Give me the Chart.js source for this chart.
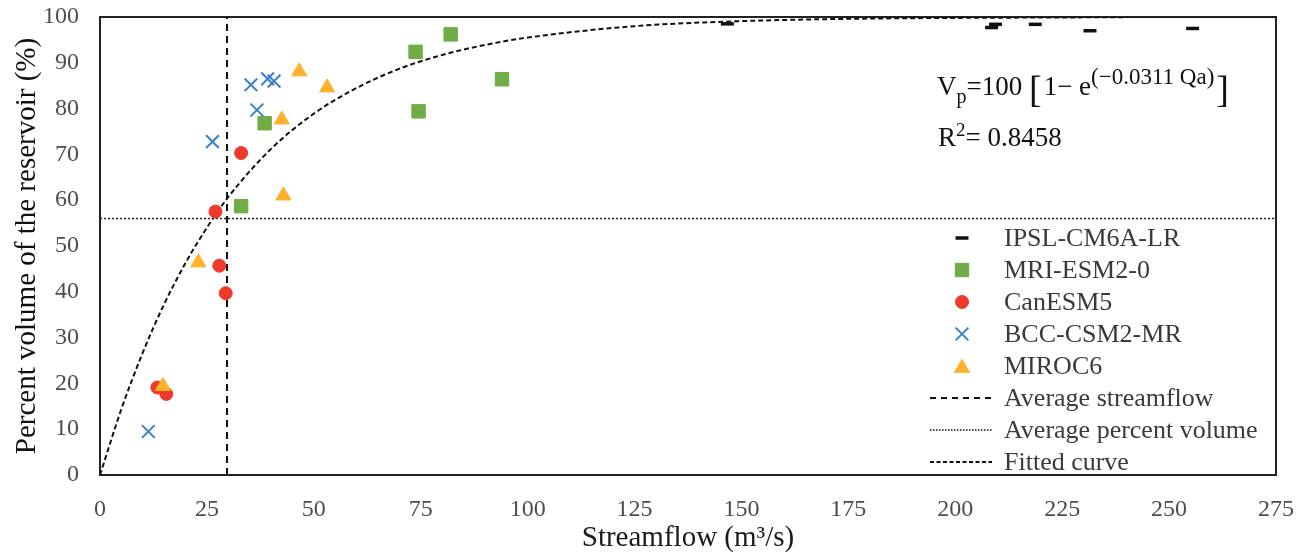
<!DOCTYPE html>
<html>
<head>
<meta charset="utf-8">
<script src="https://cdn.jsdelivr.net/npm/chart.js@4.4.1/dist/chart.umd.min.js"></script>
<style>
  html, body { margin: 0; padding: 0; background: #fff; }
  #chart { display: block; }
</style>
</head>
<body>
<canvas id="chart" width="1306" height="553"></canvas>
<script>
// values
const seriesNames = ['IPSL-CM6A-LR', 'MRI-ESM2-0', 'CanESM5', 'BCC-CSM2-MR', 'MIROC6'];

const ipslX = [146.7, 208.5, 209.4, 218.7, 231.5, 255.5];
const ipslY = [98.5, 97.7, 98.4, 98.4, 97.0, 97.5];

const mriX = [73.8, 82, 94, 74.5, 38.5, 33];
const mriY = [92.4, 96.2, 86.4, 79.4, 76.8, 58.7];

const canX = [33, 27, 27.9, 29.4, 13.4, 15.5];
const canY = [70.3, 57.5, 45.7, 39.7, 19.1, 17.7];

const bccX = [35.3, 39.2, 40.7, 36.7, 26.3, 11.3];
const bccY = [85.2, 86.5, 86.0, 79.7, 72.8, 9.5];

const mirocX = [46.6, 53.1, 42.5, 42.9, 23, 14.7];
const mirocY = [88.1, 84.6, 77.6, 61.0, 46.4, 19.4];

// fitted curve
const curveX = [0, 5, 10, 15, 20, 25, 30, 40, 50, 60, 70, 80, 90, 100, 125, 150, 175, 200, 225, 250, 275];
const curveY = [0, 14.4, 26.7, 37.3, 46.3, 54, 60.7, 71.2, 78.9, 84.5, 88.7, 91.7, 93.9, 95.5, 98, 99.1, 99.6, 99.8, 99.9, 100, 100];

const avgFlow = 29.7;
const avgVolume = 56;

const xTicks = [0, 25, 50, 75, 100, 125, 150, 175, 200, 225, 250, 275];
const yTicks = [0, 10, 20, 30, 40, 50, 60, 70, 80, 90, 100];

const serif = "'Liberation Serif', 'Times New Roman', serif";

function toPoints(xs, ys) {
    return xs.map((x, i) => ({ x: x, y: ys[i] }));
}

const colors = {
    ipsl: '#111111',
    mri: '#70AD47',
    can: '#EE3A2C',
    bcc: '#3A80C9',
    miroc: '#FFB12B'
};

// frame around plot area + equation text + legend
const decorPlugin = {
    id: 'decor',
    beforeDatasetsDraw(chart) {
        const { ctx, chartArea: a } = chart;
        ctx.save();
        ctx.strokeStyle = '#222';
        ctx.lineWidth = 2;
        ctx.strokeRect(a.left, a.top, a.right - a.left, a.bottom - a.top);
        ctx.restore();
    },
    afterDraw(chart) {
        const ctx = chart.ctx;
        ctx.save();
        ctx.fillStyle = '#111';
        ctx.textBaseline = 'alphabetic';
        ctx.textAlign = 'left';

        // equation
        let x = 937;
        const base = 95;
        ctx.font = '27px ' + serif;
        ctx.fillText('V', x, base);
        x += ctx.measureText('V').width;
        ctx.font = '20px ' + serif;
        ctx.fillText('p', x, base + 8);
        x += ctx.measureText('p').width;
        ctx.font = '27px ' + serif;
        ctx.fillText('=100 ', x, base);
        x += ctx.measureText('=100 ').width;
        ctx.font = '38px ' + serif;
        ctx.fillText('[', x, base + 7);
        x += ctx.measureText('[').width + 2;
        ctx.font = '27px ' + serif;
        ctx.fillText('1\u2212 e', x, base);
        x += ctx.measureText('1\u2212 e').width;
        ctx.font = '23px ' + serif;
        ctx.fillText('(\u22120.0311 Qa)', x, base - 11);
        x += ctx.measureText('(\u22120.0311 Qa)').width + 2;
        ctx.font = '38px ' + serif;
        ctx.fillText(']', x, base + 7);

        // R squared
        x = 938;
        const base2 = 146;
        ctx.font = '27px ' + serif;
        ctx.fillText('R', x, base2);
        x += ctx.measureText('R').width;
        ctx.font = '19px ' + serif;
        ctx.fillText('2', x, base2 - 10);
        x += ctx.measureText('2').width;
        ctx.font = '27px ' + serif;
        ctx.fillText('= 0.8458', x, base2);

        // legend
        const rowY = 238, step = 32, markX = 962, textX = 1004;
        const marks = [
            { style: 'line', color: colors.ipsl, radius: 6.5, bw: 3.5 },
            { style: 'rect', color: colors.mri, radius: 9.5, bw: 1 },
            { style: 'circle', color: colors.can, radius: 6.5, bw: 1 },
            { style: 'crossRot', color: colors.bcc, radius: 9, bw: 2 },
            { style: 'triangle', color: colors.miroc, radius: 8.7, bw: 1 }
        ];
        marks.forEach((m, i) => {
            ctx.fillStyle = m.color;
            ctx.strokeStyle = m.color;
            ctx.lineWidth = m.bw;
            ctx.setLineDash([]);
            Chart.helpers.drawPoint(ctx, { pointStyle: m.style, radius: m.radius, borderWidth: m.bw, rotation: 0 }, markX, rowY + i * step + (m.style === 'triangle' ? 2 : 0));
        });
        const lines = [
            { dash: [6, 5], width: 2 },
            { dash: [1.5, 1.5], width: 1.5 },
            { dash: [4, 2.5], width: 2 }
        ];
        lines.forEach((l, i) => {
            const y = rowY + (5 + i) * step;
            ctx.strokeStyle = '#111';
            ctx.lineWidth = l.width;
            ctx.setLineDash(l.dash);
            ctx.beginPath();
            ctx.moveTo(930, y);
            ctx.lineTo(992, y);
            ctx.stroke();
        });
        ctx.setLineDash([]);
        const labels = seriesNames.concat(['Average streamflow', 'Average percent volume', 'Fitted curve']);
        ctx.fillStyle = '#3a3a3a';
        ctx.font = '26px ' + serif;
        ctx.textBaseline = 'middle';
        labels.forEach((t, i) => ctx.fillText(t, textX, rowY + i * step + 1));
        ctx.restore();
    }
};

const ctx = document.getElementById('chart').getContext('2d');
new Chart(ctx, {
    type: 'scatter',
    data: {
        datasets: [
            {
                label: seriesNames[4],
                data: toPoints(mirocX, mirocY),
                pointStyle: 'triangle',
                pointRadius: 8.7,
                backgroundColor: colors.miroc,
                borderColor: colors.miroc,
                borderWidth: 1,
                order: 1
            },
            {
                label: seriesNames[2],
                data: toPoints(canX, canY),
                pointStyle: 'circle',
                pointRadius: 6.5,
                backgroundColor: colors.can,
                borderColor: colors.can,
                borderWidth: 1,
                order: 2
            },
            {
                label: seriesNames[3],
                data: toPoints(bccX, bccY),
                pointStyle: 'crossRot',
                pointRadius: 9,
                backgroundColor: colors.bcc,
                borderColor: colors.bcc,
                borderWidth: 2,
                order: 3
            },
            {
                label: seriesNames[1],
                data: toPoints(mriX, mriY),
                pointStyle: 'rect',
                pointRadius: 9.5,
                backgroundColor: colors.mri,
                borderColor: colors.mri,
                borderWidth: 1,
                order: 4
            },
            {
                label: seriesNames[0],
                data: toPoints(ipslX, ipslY),
                pointStyle: 'line',
                pointRadius: 6.5,
                borderColor: colors.ipsl,
                borderWidth: 3.5,
                order: 5
            },
            {
                label: 'Average streamflow',
                data: [{ x: avgFlow, y: 0 }, { x: avgFlow, y: 100 }],
                showLine: true,
                borderColor: '#111',
                borderWidth: 2,
                borderDash: [7, 5],
                pointRadius: 0,
                order: 6
            },
            {
                label: 'Average percent volume',
                data: [{ x: 0, y: avgVolume }, { x: 275, y: avgVolume }],
                showLine: true,
                borderColor: '#222',
                borderWidth: 1.5,
                borderDash: [2, 2],
                pointRadius: 0,
                order: 7
            },
            {
                label: 'Fitted curve',
                data: toPoints(curveX, curveY),
                showLine: true,
                cubicInterpolationMode: 'monotone',
                borderColor: '#111',
                borderWidth: 2,
                borderDash: [5, 3],
                pointRadius: 0,
                order: 8
            }
        ]
    },
    options: {
        responsive: false,
        animation: false,
        layout: { padding: 0 },
        plugins: {
            legend: { display: false },
            tooltip: { enabled: false }
        },
        scales: {
            x: {
                type: 'linear',
                min: 0,
                max: 275,
                afterBuildTicks: (scale) => { scale.ticks = xTicks.map(v => ({ value: v })); },
                afterFit: (scale) => {
                    scale.height = 78;
                    scale.paddingLeft = 0;
                    scale.paddingRight = 30;
                },
                grid: { display: false, drawTicks: false },
                border: { display: false },
                ticks: { padding: 20, color: '#4d4d4d', font: { family: serif, size: 24 } },
                title: {
                    display: true,
                    text: 'Streamflow (m\u00b3/s)',
                    color: '#1a1a1a',
                    font: { family: serif, size: 29 },
                    padding: { top: 0, bottom: -3 }
                }
            },
            y: {
                type: 'linear',
                min: 0,
                max: 100,
                afterBuildTicks: (scale) => { scale.ticks = yTicks.map(v => ({ value: v })); },
                afterFit: (scale) => {
                    scale.width = 100;
                    scale.paddingTop = 17;
                    scale.paddingBottom = 0;
                },
                grid: { display: false, drawTicks: false },
                border: { display: false },
                ticks: { padding: 21, color: '#4d4d4d', font: { family: serif, size: 24 } },
                title: {
                    display: true,
                    text: 'Percent volume of the reservoir (%)',
                    color: '#111',
                    font: { family: serif, size: 29 },
                    padding: { top: 10, bottom: 0 }
                }
            }
        }
    },
    plugins: [decorPlugin]
});
</script>
</body>
</html>
